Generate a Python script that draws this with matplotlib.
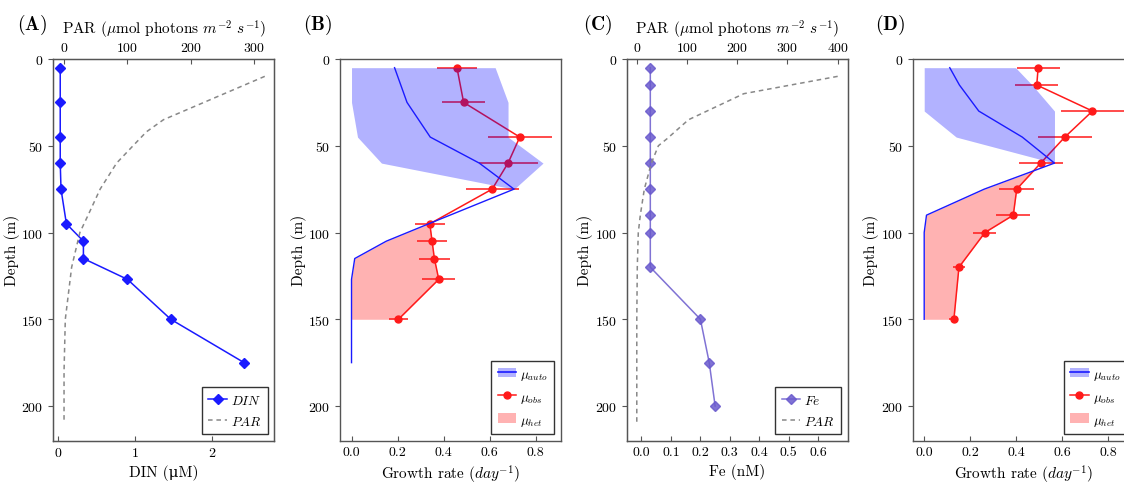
import matplotlib
matplotlib.use("Agg")
import matplotlib.pyplot as plt
from matplotlib.lines import Line2D
from matplotlib.patches import Patch

plt.rcParams['font.family'] = ['cmr10', 'DejaVu Serif']
plt.rcParams['mathtext.fontset'] = 'cm'
plt.rcParams['axes.formatter.use_mathtext'] = True
plt.rcParams['axes.unicode_minus'] = False

# panel A: DIN + PAR
din_depth = [5, 25, 45, 60, 75, 95, 105, 115, 127, 150, 175]
din = [0.03, 0.03, 0.03, 0.03, 0.04, 0.11, 0.33, 0.33, 0.90, 1.46, 2.41]
par_a_depth = [10, 35, 42, 50, 60, 75, 90, 100, 120, 150, 180, 210]
par_a = [317, 157, 130, 109, 83, 57, 38, 25, 12, 2, 0, 0]

# panel B: growth rates
b_depth = [5, 25, 45, 60, 75, 95, 105, 115, 127, 150]
b_obs = [0.458, 0.487, 0.731, 0.680, 0.611, 0.340, 0.350, 0.360, 0.379, 0.204]
b_obs_err = [0.087, 0.092, 0.139, 0.128, 0.115, 0.065, 0.065, 0.068, 0.071, 0.040]
b_auto_depth = [5, 25, 45, 60, 75, 95, 105, 115, 127, 150, 175]
b_auto = [0.187, 0.241, 0.342, 0.555, 0.706, 0.335, 0.151, 0.014, 0.0, 0.0, 0.0]
b_auto_min = [0.0, 0.0, 0.026, 0.13, 0.706]
b_auto_max = [0.624, 0.680, 0.680, 0.832, 0.706]

# panel C: Fe + PAR
fe_depth = [5, 15, 30, 45, 60, 75, 90, 100, 120, 150, 175, 200]
fe = [0.03, 0.03, 0.03, 0.03, 0.03, 0.03, 0.03, 0.03, 0.03, 0.20, 0.23, 0.25]
par_c_depth = [10, 20, 35, 46, 50, 60, 75, 90, 100, 120, 150, 210]
par_c = [400, 213, 103, 60, 43, 29, 15, 7, 3, 1, 0, 0]

# panel D: growth rates
d_depth = [5, 15, 30, 45, 60, 75, 90, 100, 120, 150]
d_obs = [0.495, 0.489, 0.731, 0.611, 0.506, 0.402, 0.387, 0.264, 0.151, 0.129]
d_obs_err = [0.093, 0.093, 0.138, 0.116, 0.095, 0.075, 0.073, 0.050, 0.025, 0.020]
d_auto = [0.111, 0.153, 0.237, 0.426, 0.566, 0.261, 0.010, 0.0, 0.0, 0.0]
d_auto_min = [0.0, 0.0, 0.0, 0.139, 0.566]
d_auto_max = [0.397, 0.469, 0.566, 0.566, 0.566]

SPINE = '#555555'
FE_COL = '#6a5acd'
MU = '\u03bc'
PAR_LABEL = r'PAR ($\mu$mol photons $m^{-2}$ $s^{-1}$)'


def style(ax):
    for s in ax.spines.values():
        s.set_color(SPINE)
        s.set_linewidth(1.0)
    ax.tick_params(axis='x', direction='in', labelsize=10, color=SPINE, top=False)
    ax.tick_params(axis='y', direction='out', labelsize=10, color=SPINE, right=False)
    ax.set_ylim(220, 0)
    ax.set_yticks([0, 50, 100, 150, 200])
    ax.set_ylabel('Depth (m)', fontsize=11, labelpad=1)


def legend(ax, handles, labels, spacing=0.6):
    leg = ax.legend(handles, labels, loc='lower right', fontsize=9.5, fancybox=False,
                    handlelength=1.4, handletextpad=0.3, borderpad=0.5, labelspacing=spacing,
                    framealpha=1)
    leg.get_frame().set_edgecolor('#333333')
    leg.get_frame().set_linewidth(1.0)
    return leg


def growth_panel(ax, depth, obs, err, auto_depth, auto, amin, amax, split):
    n = len(amin)
    ax.fill_betweenx(depth[split:], auto[split:len(depth)], obs[split:],
                     where=[o >= a for o, a in zip(obs[split:], auto[split:len(depth)])],
                     interpolate=True, color='red', alpha=0.3, lw=0, zorder=1)
    ax.errorbar(obs, depth, xerr=err, color='#ff1a1a', marker='o', ms=5, lw=1.1,
                elinewidth=1.1, capsize=0, zorder=2)
    ax.fill_betweenx(depth[:n], amin, amax, color='blue', alpha=0.3, lw=0, zorder=3)
    ax.plot(auto, auto_depth, color='#1a1aff', lw=1.0, zorder=4)
    ax.set_xlim(-0.05, 0.91)
    ax.set_xticks([0.0, 0.2, 0.4, 0.6, 0.8])
    ax.set_xticklabels(['0.0', '0.2', '0.4', '0.6', '0.8'])
    ax.set_xlabel('Growth rate ($day^{-1}$)', fontsize=11)
    h_auto = (Patch(facecolor='blue', alpha=0.3, lw=0), Line2D([], [], color='#1a1aff', lw=1.2))
    h_obs = Line2D([], [], color='#ff1a1a', marker='o', ms=5, lw=1.1)
    h_het = Patch(facecolor='red', alpha=0.3, lw=0)
    legend(ax, [h_auto, h_obs, h_het],
           [r'$\mu_{auto}$', r'$\mu_{obs}$', r'$\mu_{het}$'], spacing=0.65)


fig = plt.figure(figsize=(11.24, 4.89), dpi=100)
bottom = 0.0967
height = 0.7806
width = 0.1966

# (A)
axA = fig.add_axes([0.0474, bottom, width, height])
style(axA)
axA.plot(din, din_depth, color='#1a1aff', marker='D', ms=5, lw=1.1)
axA.set_xlim(-0.06, 2.80)
axA.set_xticks([0, 1, 2])
axA.set_xlabel('DIN (' + MU + 'M)', fontsize=11)
tA = axA.twiny()
tA.plot(par_a, par_a_depth, color='#888888', ls='--', lw=1.1, dashes=(3, 2.5))
tA.set_xlim(-17, 332)
tA.set_xticks([0, 100, 200, 300])
tA.tick_params(axis='x', direction='in', labelsize=10, color=SPINE)
tA.set_xlabel(PAR_LABEL, fontsize=11, labelpad=5)
for s in tA.spines.values():
    s.set_color(SPINE)
tA.set_ylim(220, 0)
legend(tA, [Line2D([], [], color='#1a1aff', marker='D', ms=5, lw=1.1),
            Line2D([], [], color='#888888', ls='--', lw=1.1, dashes=(3, 2.5))],
       ['$DIN$', '$PAR$'])

# (B)
axB = fig.add_axes([0.3025, bottom, width, height])
style(axB)
growth_panel(axB, b_depth, b_obs, b_obs_err, b_auto_depth, b_auto, b_auto_min, b_auto_max, 4)

# (C)
axC = fig.add_axes([0.5576, bottom, width, height])
style(axC)
axC.plot(fe, fe_depth, color=FE_COL, marker='D', ms=5, lw=1.1, mfc=FE_COL, mec=FE_COL,
         alpha=0.85)
axC.set_xlim(-0.05, 0.70)
axC.set_xticks([0.0, 0.1, 0.2, 0.3, 0.4, 0.5, 0.6])
axC.set_xticklabels(['0.0', '0.1', '0.2', '0.3', '0.4', '0.5', '0.6'])
axC.set_xlabel('Fe (nM)', fontsize=11)
tC = axC.twiny()
tC.plot(par_c, par_c_depth, color='#888888', ls='--', lw=1.1, dashes=(3, 2.5))
tC.set_xlim(-20, 420)
tC.set_xticks([0, 100, 200, 300, 400])
tC.tick_params(axis='x', direction='in', labelsize=10, color=SPINE)
tC.set_xlabel(PAR_LABEL, fontsize=11, labelpad=5)
for s in tC.spines.values():
    s.set_color(SPINE)
tC.set_ylim(220, 0)
legend(tC, [Line2D([], [], color=FE_COL, marker='D', ms=5, lw=1.1, alpha=0.85),
            Line2D([], [], color='#888888', ls='--', lw=1.1, dashes=(3, 2.5))],
       ['$Fe$', '$PAR$'])

# (D) - runs off the right edge like the original
axD = fig.add_axes([0.812, bottom, width, height])
style(axD)
growth_panel(axD, d_depth, d_obs, d_obs_err, d_depth, d_auto, d_auto_min, d_auto_max, 4)

for lab, x in [('A', 17), ('B', 303), ('C', 583), ('D', 875)]:
    fig.text(x / 1124, 1 - 25 / 489, r'$\mathbf{(%s)}$' % lab, fontsize=14,
             ha='left', va='center')

fig.savefig('out.png', dpi=100)
